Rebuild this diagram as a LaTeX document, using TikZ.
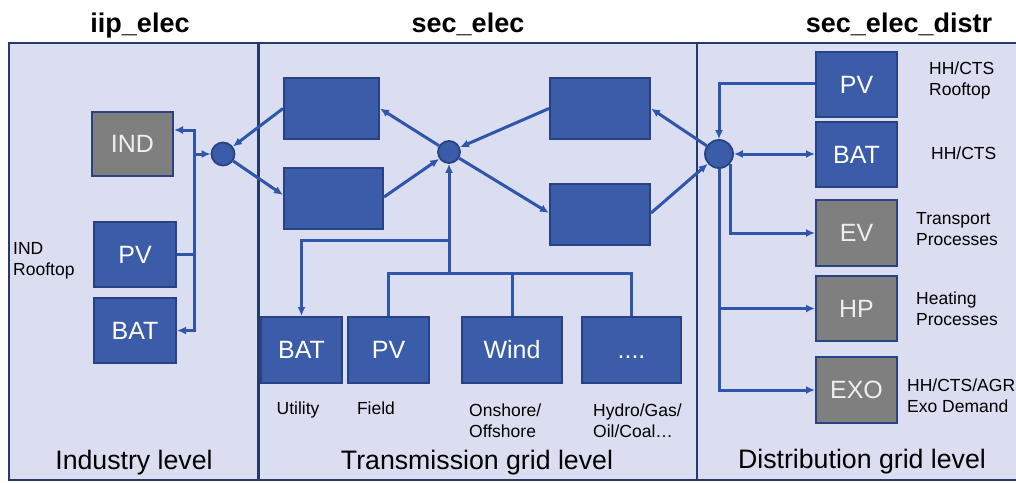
\documentclass[tikz,border=0pt]{standalone}
\usepackage{fontspec}
\setmainfont{Liberation Sans}
\usetikzlibrary{arrows.meta,calc}
\definecolor{panelbg}{RGB}{218,222,240}
\definecolor{framec}{RGB}{38,58,108}
\definecolor{boxblue}{RGB}{59,92,168}
\definecolor{boxedge}{RGB}{40,66,132}
\definecolor{linkc}{RGB}{47,86,170}
\definecolor{boxgray}{RGB}{127,127,127}
\definecolor{graytext}{RGB}{238,238,238}
\begin{document}
\begin{tikzpicture}[x=1pt,y=-1pt,
 box/.style={draw=boxedge, line width=2pt, fill=boxblue, inner sep=0pt, text=white,
   font=\fontsize{25}{30}\selectfont, text height=17.9pt, text depth=0pt},
 graybox/.style={box, fill=boxgray, text=graytext},
 hub/.style={circle, draw=boxedge, line width=1.8pt, fill=boxblue, inner sep=0pt},
 link/.style={draw=linkc, line width=3pt},
 arr/.style={link, -{Latex[length=9pt,width=8pt]}},
 darr/.style={link, {Latex[length=9pt,width=8pt]}-{Latex[length=9pt,width=8pt]}},
 title/.style={font=\fontsize{27}{30}\selectfont\bfseries, anchor=base, inner sep=0pt},
 level/.style={font=\fontsize{26.7}{30}\selectfont, anchor=base, inner sep=0pt},
 note/.style={font=\fontsize{17.5}{21}\selectfont, align=left, inner sep=0pt},
]
\useasboundingbox (0,0) rectangle (1016,482);
\clip (0,0) rectangle (1016,482);
\fill[white] (0,0) rectangle (1016,482);
% panels
\draw[draw=framec, line width=2.4pt, fill=panelbg] (9,43) rectangle (1030,480);
\draw[draw=framec, line width=2.4pt] (258.5,43) -- (258.5,480);
\draw[draw=framec, line width=2.4pt] (697,43) -- (697,480);

% titles
\node[title] (t1) at (140,32) {iip\_elec};
\node[title] (t2) at (468,32) {sec\_elec};
\node[title] (t3) at (899,32) {sec\_elec\_distr};

% level labels
\node[level] (l1) at (134,469) {Industry level};
\node[level] (l2) at (477,469) {Transmission grid level};
\node[level] (l3) at (862,468) {Distribution grid level};

% industry boxes
\node[graybox, minimum width=81pt, minimum height=64pt] (IND) at (132.5,144) {IND};
\node[box, minimum width=82pt, minimum height=65pt] (PV1) at (135,254.5) {PV};
\node[box, minimum width=82pt, minimum height=65pt] (BAT1) at (135,330.5) {BAT};

% transmission boxes
\node[box, minimum width=95pt, minimum height=61pt] (TL) at (331.5,108.5) {};
\node[box, minimum width=99pt, minimum height=61pt] (BL) at (333.5,198.5) {};
\node[box, minimum width=100pt, minimum height=61pt] (TR) at (600,108.5) {};
\node[box, minimum width=100pt, minimum height=61pt] (BR) at (600,214.5) {};
\node[box, minimum width=81pt, minimum height=66pt] (BAT2) at (301.5,350) {BAT};
\node[box, minimum width=81pt, minimum height=66pt] (PV2) at (388.5,350) {PV};
\node[box, minimum width=100pt, minimum height=66pt] (Wind) at (512,350) {Wind};
\node[box, minimum width=99pt, minimum height=66pt] (Dots) at (631.5,350) {....};

% distribution boxes
\node[box, minimum width=81pt, minimum height=65pt] (PV3) at (856.5,84.5) {PV};
\node[box, minimum width=81pt, minimum height=65pt] (BAT3) at (856.5,154.5) {BAT};
\node[graybox, minimum width=81pt, minimum height=66pt] (EV) at (856.5,233) {EV};
\node[graybox, minimum width=81pt, minimum height=65pt] (HP) at (856.5,308.5) {HP};
\node[graybox, minimum width=81pt, minimum height=66pt] (EXO) at (856.5,390) {EXO};

% hubs
\node[hub, minimum size=23pt] (c1) at (223,154) {};
\node[hub, minimum size=22pt] (c2) at (449,152) {};
\node[hub, minimum size=28pt] (c3) at (719,154) {};

% industry connectors
\coordinate (b1) at (194,154);
\draw[darr] ([yshift=14pt]IND.east) -| (b1) -- (c1);
\draw[link] (PV1.east) -| (b1);
\draw[arr] (PV1.east -| b1) |- (BAT1.east);

% inter-level connectors
\draw[arr] (TL.west) -- (c1);
\draw[arr] (c1) -- ([yshift=3.5pt]BL.west);
\draw[arr] (c2) -- (TL.east);
\draw[arr] ([yshift=1.5pt]BL.east) -- (c2);
\draw[arr] (TR.west) -- (c2);
\draw[arr] (c2) -- ([yshift=1.5pt]BR.west);
\draw[arr] (c3) -- (TR.east);
\draw[arr] ([yshift=1.5pt]BR.east) -- (c3);

% transmission bottom
\coordinate (j2) at (449,273);
\coordinate (k2) at (449,240);
\draw[arr] (j2) -- (c2.south);
\draw[arr] (k2) -| (BAT2.north);
\draw[link] (PV2.north) |- (j2) -| (Dots.north);
\draw[link] (Wind.north) -- (Wind.north |- j2);

% distribution connectors
\draw[arr] ([yshift=1.5pt]PV3.west) -| (c3.north);
\draw[darr] (c3.east) -- (c3.east -| BAT3.west);
\draw[arr] (c3.-40) |- (EV.west);
\draw[arr] (c3.south) |- (HP.west);
\draw[arr] (c3.south) |- (EXO.west);

% notes
\node[note, anchor=north west] (n1) at (13,242) {IND\\Rooftop};
\node[note, anchor=base] (u1) at (298,414) {Utility};
\node[note, anchor=base] (f1) at (376,414) {Field};
\node[note, anchor=north west] (o1) at (469,404) {Onshore/\\Offshore};
\node[note, anchor=north west] (h1) at (593,404) {Hydro/Gas/\\Oil/Coal…};
\node[note, anchor=north west] (r1) at (929,62) {HH/CTS\\Rooftop};
\node[note, anchor=base west] (r2) at (931,159) {HH/CTS};
\node[note, anchor=north west] (r3) at (916,212) {Transport\\Processes};
\node[note, anchor=north west] (r4) at (916,292) {Heating\\Processes};
\node[note, anchor=north west] (r5) at (907,379) {HH/CTS/AGR\\Exo Demand};
\end{tikzpicture}
\end{document}
